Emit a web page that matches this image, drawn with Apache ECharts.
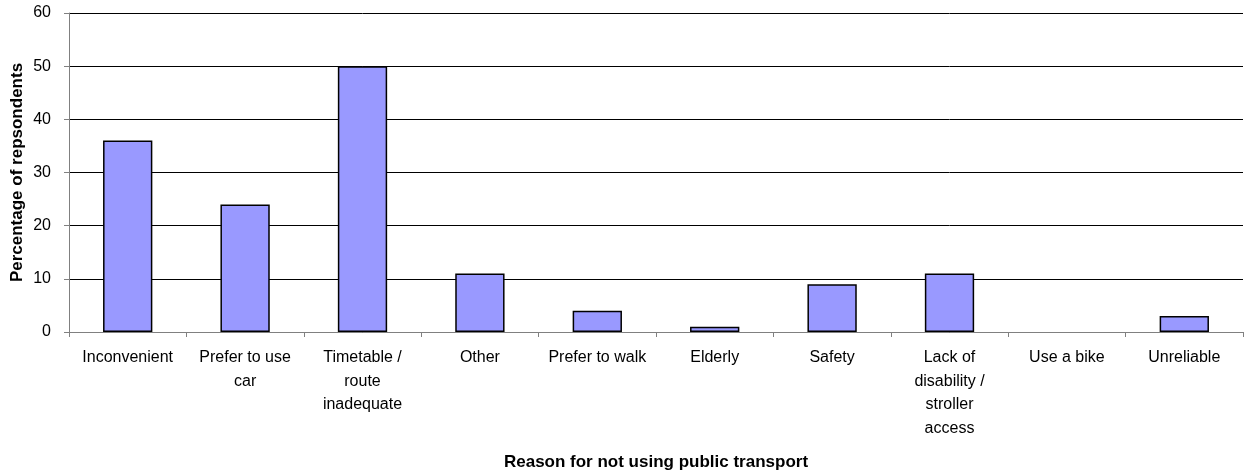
<!DOCTYPE html>
<html>
<head>
<meta charset="utf-8">
<script src="https://cdn.jsdelivr.net/npm/echarts@6/dist/echarts.min.js"></script>
<style>html,body{margin:0;padding:0;background:#fff}#c{width:1254px;height:475px}</style>
</head>
<body>
<div id="c"></div>
<script>
const categories = [
  "Inconvenient",
  "Prefer to use\ncar",
  "Timetable /\nroute\ninadequate",
  "Other",
  "Prefer to walk",
  "Elderly",
  "Safety",
  "Lack of\ndisability /\nstroller\naccess",
  "Use a bike",
  "Unreliable"
];
const values = [36, 24, 50, 11, 4, 1, 9, 11, 0, 3];
const yTicks = [0, 10, 20, 30, 40, 50, 60];

const chart = echarts.init(document.getElementById('c'), null, {renderer: 'canvas'});
chart.setOption({
  animation: false,
  backgroundColor: '#ffffff',
  grid: {left: 69, right: 11, top: 13, bottom: 143, containLabel: false, outerBoundsMode: 'none'},
  xAxis: {
    type: 'category',
    data: categories,
    name: 'Reason for not using public transport',
    nameLocation: 'middle',
    nameGap: 122,
    nameMoveOverlap: false,
    nameTextStyle: {fontFamily: 'Liberation Sans', fontSize: 17, fontWeight: 'bold', color: '#000', verticalAlign: 'top'},
    axisLine: {lineStyle: {color: '#808080', width: 1}},
    axisTick: {show: true, inside: false, length: 5, alignWithLabel: false, lineStyle: {color: '#808080'}},
    axisLabel: {interval: 0, margin: 14, fontFamily: 'Liberation Sans', fontSize: 16, color: '#000', lineHeight: 23.5, align: 'center'},
    splitLine: {show: false}
  },
  yAxis: {
    type: 'value',
    min: yTicks[0],
    max: yTicks[yTicks.length - 1],
    interval: yTicks[1] - yTicks[0],
    name: 'Percentage of repsondents',
    nameLocation: 'middle',
    nameRotate: 90,
    nameGap: 43,
    nameMoveOverlap: false,
    nameTextStyle: {fontFamily: 'Liberation Sans', fontSize: 17, fontWeight: 'bold', color: '#000'},
    axisLine: {show: true, lineStyle: {color: '#808080', width: 1}},
    axisTick: {show: true, inside: false, length: 5, lineStyle: {color: '#808080'}},
    axisLabel: {margin: 18, fontFamily: 'Liberation Sans', fontSize: 16, color: '#000'},
    splitLine: {show: true, lineStyle: {color: '#000', width: 1}}
  },
  series: [{
    type: 'bar',
    data: values.map(v => v === 0 ? {value: v, itemStyle: {borderWidth: 0}} : v),
    barWidth: '42%',
    itemStyle: {color: '#9999FF', borderColor: '#000', borderWidth: 1.5}
  }]
});
</script>
</body>
</html>
